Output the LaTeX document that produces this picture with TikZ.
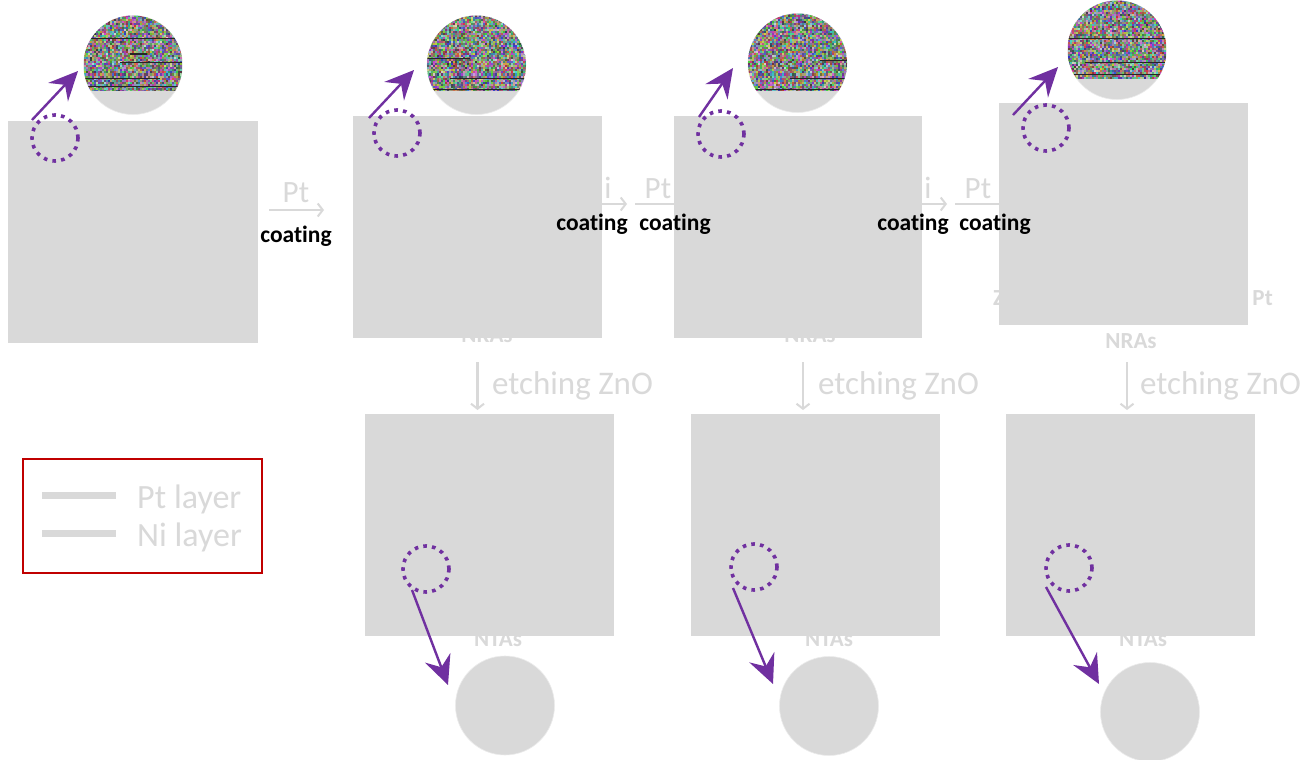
\documentclass[tikz,border=0pt]{standalone}
\usepackage{fontspec}
\setmainfont{Carlito}[Ligatures=NoCommon]
\usetikzlibrary{arrows.meta}
\definecolor{sq}{RGB}{217,217,217}
\definecolor{gtxt}{RGB}{217,217,217}
\definecolor{purp}{RGB}{112,48,160}
\definecolor{legred}{RGB}{192,0,0}
\newcommand{\mynoise}[4]{%
\begin{scope}
\clip (#1,#2) circle[radius=#3];
\clip (#1-#3,#2-#3) rectangle (#1+#3,#4);
\pgfmathtruncatemacro{\mynx}{2*#3/2}
\pgfmathtruncatemacro{\myny}{(#4-#2+#3)/2}
\foreach \i in {0,...,\mynx}{
 \foreach \j in {0,...,\myny}{
  \pgfmathtruncatemacro{\myr}{random(50,215)}
  \pgfmathtruncatemacro{\myg}{random(50,215)}
  \pgfmathtruncatemacro{\myb}{random(50,215)}
  \definecolor{nz}{RGB}{\myr,\myg,\myb}
  \fill[nz] ({#1-#3+\i*2},{#2-#3+\j*2}) rectangle ++(2.1,2.1);
 }}
\end{scope}}
\tikzset{
 sqbox/.style={rectangle, fill=sq, inner sep=0, outer sep=0},
 bigc/.style={circle, fill=sq, draw=black!8, line width=0.6pt, minimum size=99pt, inner sep=0, outer sep=0},
 dotc/.style={circle, draw=purp, line width=3.6pt, dash pattern=on 3.6pt off 5.2pt, minimum size=46pt, inner sep=0, outer sep=0},
 parr/.style={draw=purp, line width=2.4pt, -{Stealth[length=29pt,width=27pt,inset=10pt]}},
 garr/.style={draw=sq, line width=2.5pt, -{Straight Barb[length=5pt,width=13pt,line width=2pt]}},
 gline/.style={draw=sq, line width=2.5pt},
 glab/.style={text=gtxt, font=\fontsize{31}{33}\selectfont, inner sep=0, anchor=base},
 gbold/.style={text=gtxt, font=\fontsize{23}{26}\selectfont\bfseries, inner sep=0, anchor=base},
 coat/.style={text=black, font=\fontsize{23.5}{26}\selectfont\bfseries, inner sep=0},
 etch/.style={text=gtxt, font=\fontsize{33}{36}\selectfont, inner sep=0, anchor=base west},
 legtxt/.style={text=gtxt, font=\fontsize{34}{36}\selectfont, inner sep=0, anchor=base west},
 legline/.style={draw=sq, line width=7pt},
}
\begin{document}
\begin{tikzpicture}[x=1pt,y=-1pt]
\pgfmathsetseed{4242}
\useasboundingbox (0,0) rectangle (1314,760);
\fill[white] (0,0) rectangle (1314,760);

% grey labels under the squares
\node[glab] (pt1) at (296,202) {Pt};
\node[glab] (ni2) at (608,198) {i};
\node[glab] (pt2) at (658,198) {Pt};
\node[glab] (ni3) at (928,198) {i};
\node[glab] (pt3) at (978,198) {Pt};
\node[gbold] (nr2) at (487,342) {NRAs};
\node[gbold] (nr3) at (810,342) {NRAs};
\node[gbold] (nr4) at (1131,348) {NRAs};
\node[gbold, anchor=base west] (z4) at (993,305) {Z};
\node[gbold, anchor=base east] (p4) at (1273,305) {Pt};
\node[gbold] (nt5) at (498,646) {NTAs};
\node[gbold] (nt6) at (829,646) {NTAs};
\node[gbold] (nt7) at (1143,646) {NTAs};
\node[etch] (et2) at (492,394) {etching ZnO};
\node[etch] (et3) at (818,394) {etching ZnO};
\node[etch] (et4) at (1140,394) {etching ZnO};

% squares
\node[sqbox, minimum width=250pt, minimum height=222pt] (s1) at (133,232) {};
\node[sqbox, minimum width=249pt, minimum height=222pt] (s2) at (477.5,227) {};
\node[sqbox, minimum width=248pt, minimum height=222pt] (s3) at (798,227) {};
\node[sqbox, minimum width=249pt, minimum height=222pt] (s4) at (1123.5,214) {};
\node[sqbox, minimum width=249pt, minimum height=222pt] (s5) at (489.5,525) {};
\node[sqbox, minimum width=249pt, minimum height=222pt] (s6) at (815.5,525) {};
\node[sqbox, minimum width=249pt, minimum height=222pt] (s7) at (1130.5,525) {};

% grey process arrows
\draw[garr] ([shift={(11pt,22pt)}]s1.east) -- ++(55,0);
\draw[garr] ([shift={(0pt,23pt)}]s2.east) -- ++(25,0);
\draw[gline] ([shift={(33pt,23pt)}]s2.east) -- ++(39,0);
\draw[garr] ([shift={(0pt,23pt)}]s3.east) -- ++(25,0);
\draw[gline] ([shift={(33pt,23pt)}]s3.east) -- ++(44,0);
\draw[garr] ([yshift=-24pt]s2.south) -- ++(0,48);
\draw[garr] ([shift={(5pt,-24pt)}]s3.south) -- ++(0,48);
\draw[garr] ([shift={(3.5pt,-37pt)}]s4.south) -- ++(0,48);

% black labels
\node[coat] (co1) at (296,236) {coating};
\node[coat] (co2) at (592,224) {coating};
\node[coat] (co3) at (675,224) {coating};
\node[coat] (co4) at (913,224) {coating};
\node[coat] (co5) at (995,224) {coating};

% magnified circles (top)
\node[bigc] (c1) at (133,65) {};
\node[bigc] (c2) at (476.5,65) {};
\node[bigc] (c3) at (797.5,63) {};
\node[bigc] (c4) at (1117,50) {};
\mynoise{133}{65}{49.5}{90}
\mynoise{476.5}{65}{49.5}{90}
\mynoise{797.5}{63}{49.5}{90}
\mynoise{1117}{50}{49.5}{78}
\begin{scope}[black!85, line width=0.8pt]
\clip (133,65) circle[radius=49.5];
\draw (84,38) -- (183,38);
\draw[line width=1.6pt] (130,54) -- (147,54);
\draw (120,62) -- (183,62);
\draw (84,78) -- (160,78);
\draw (84,86) -- (183,86);
\end{scope}
\begin{scope}[black!85, line width=0.8pt]
\clip (476.5,65) circle[radius=49.5];
\draw (427,58) -- (470,58);
\draw (450,78) -- (526,78);
\draw (427,89) -- (526,89);
\end{scope}
\begin{scope}[black!85, line width=0.8pt]
\clip (797.5,63) circle[radius=49.5];
\draw (820,60) -- (847,60);
\draw (790,78) -- (847,78);
\draw (748,89) -- (847,89);
\end{scope}
\begin{scope}[black!85, line width=0.8pt]
\clip (1117,50) circle[radius=49.5];
\draw (1068,38) -- (1167,38);
\draw (1085,62) -- (1167,62);
\draw (1068,74) -- (1167,74);
\end{scope}

% bottom circles
\node[bigc] (c5) at (505,705.5) {};
\node[bigc] (c6) at (829,706) {};
\node[bigc] (c7) at (1150,712) {};

% dotted selection circles
\node[dotc] (d1) at (55,138) {};
\node[dotc] (d2) at (397,133) {};
\node[dotc] (d3) at (721,134) {};
\node[dotc] (d4) at (1046,128) {};
\node[dotc] (d5) at (426,569) {};
\node[dotc] (d6) at (754,567) {};
\node[dotc] (d7) at (1069,568) {};

% purple arrow ends
\coordinate (a1s) at (32,120);   \coordinate (a1e) at (78,71);
\coordinate (a2s) at (369,118);  \coordinate (a2e) at (414,70);
\coordinate (a3s) at (699,117);  \coordinate (a3e) at (733,68);
\coordinate (a4s) at (1013,115); \coordinate (a4e) at (1058,67);
\coordinate (a5s) at (412,590);  \coordinate (a5e) at (448,685);
\coordinate (a6s) at (733,588);  \coordinate (a6e) at (773,684);
\coordinate (a7s) at (1046,587); \coordinate (a7e) at (1099,684);
\draw[parr] (a1s) -- (a1e);
\draw[parr] (a2s) -- (a2e);
\draw[parr] (a3s) -- (a3e);
\draw[parr] (a4s) -- (a4e);
\draw[parr] (a5s) -- (a5e);
\draw[parr] (a6s) -- (a6e);
\draw[parr] (a7s) -- (a7e);

% legend
\node[draw=legred, line width=2pt, minimum width=239pt, minimum height=114pt, inner sep=0] (leg) at (142.5,516) {};
\draw[legline] (42,495) -- (116,495);
\draw[legline] (42,533) -- (116,533);
\node[legtxt] (lpt) at (137,508) {Pt layer};
\node[legtxt] (lni) at (137,546) {Ni layer};
\end{tikzpicture}
\end{document}
